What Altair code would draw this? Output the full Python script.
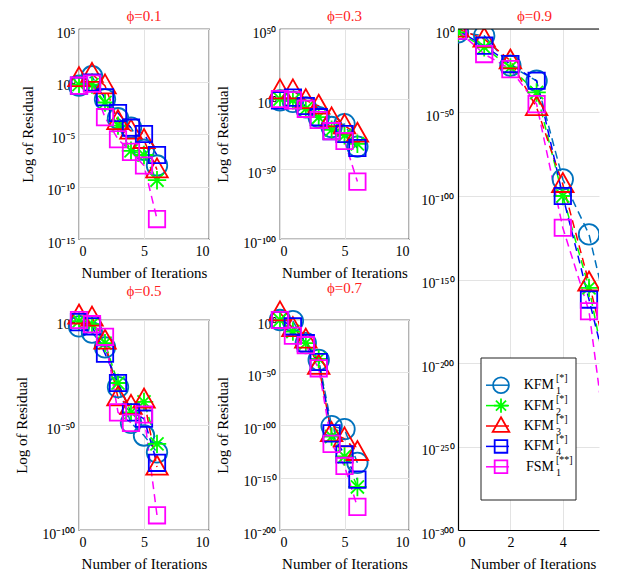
import altair as alt
import pandas as pd

iterations = [0, 1, 2, 3, 4, 5, 6]
series_keys = ["KFM1", "KFM2", "KFM3", "KFM4", "FSM1"]
legend_base = ["KFM", "KFM", "KFM", "KFM", "FSM"]
legend_sub = ["1", "2", "3", "4", "1"]
legend_sup = ["[*]", "[*]", "[*]", "[*]", "[**]"]
series_colors = ["#0072BD", "#00FF00", "#FF0000", "#0000FF", "#FF00FF"]

# log10(residual)
logres_phi01 = {
    "KFM1": [-0.4, 0.5, -1.7, -3.5, -4.4, -6.5, -8.0],
    "KFM2": [-0.3, -0.3, -2.0, -4.2, -6.6, -7.0, -9.4],
    "KFM3": [0.3, 0.7, -0.4, -3.8, -4.7, -5.6, -8.4],
    "KFM4": [-0.4, -0.1, -1.5, -3.0, -4.4, -5.0, -7.0],
    "FSM1": [-0.4, -0.2, -3.4, -5.5, -6.7, -8.0, -13.1],
}
logres_phi03 = {
    "KFM1": [-1, -2, -6, -13, -20, -18, -34],
    "KFM2": [0, -1, -7, -13, -22, -26, -32],
    "KFM3": [6, 6, -1, -5, -14, -19, -25],
    "KFM4": [-1, 1, -5, -13, -23, -25, -35],
    "FSM1": [0, -1, -7, -15, -23, -30, -59],
}
logres_phi05 = {
    "KFM1": [-3, -6, -13, -32, -49, -55, -63],
    "KFM2": [-0.5, -2, -11, -30, -44, -39, -59],
    "KFM3": [2, 1, -10, -37, -41, -38, -70],
    "KFM4": [-1, -3, -16, -30, -44, -47, -68],
    "FSM1": [0, -2, -8, -44, -49, -45, -93],
}
logres_phi07 = {
    "KFM1": [0, -1, -22, -38, -101, -104, -136],
    "KFM2": [0, -11, -22, -37, -111, -130, -159],
    "KFM3": [7, -8, -19, -44, -108, -113, -126],
    "KFM4": [0, -6, -22, -40, -108, -128, -152],
    "FSM1": [0, -15, -24, -46, -118, -139, -178],
}
logres_phi09 = {
    "KFM1": [-2, -4, -22, -31, -90, -123, -190],
    "KFM2": [-2, -11, -23, -38, -100, -155, -234],
    "KFM3": [0, -6, -19, -47, -93, -152, -216],
    "KFM4": [-1, -10, -21, -31, -100, -162, -225],
    "FSM1": [-1, -15, -24, -45, -119, -169, -289],
}

ticks_phi01 = [5, 0, -5, -10, -15]
ticks_phi03 = [50, 0, -50, -100]
ticks_phi05 = [0, -50, -100]
ticks_phi07 = [0, -50, -100, -150, -200]
ticks_phi09 = [0, -50, -100, -150, -200, -250, -300]
xticks_small = [0, 5, 10]
xticks_big = [0, 2, 4]

shape_paths = [
    "M1,0A1,1 0 1,1 -1,0A1,1 0 1,1 1,0Z",
    "M-0.9,0L0.9,0M0,-0.9L0,0.9M-0.64,-0.64L0.64,0.64M-0.64,0.64L0.64,-0.64",
    "M0,-1.1L1.05,0.75L-1.05,0.75Z",
    "M-0.8,-0.8L0.8,-0.8L0.8,0.8L-0.8,0.8Z",
    "M-0.8,-0.8L0.8,-0.8L0.8,0.8L-0.8,0.8Z",
]


def sup_label_expr():
    sup = {"0": "\u2070", "1": "\u00b9", "2": "\u00b2", "3": "\u00b3", "4": "\u2074",
           "5": "\u2075", "6": "\u2076", "7": "\u2077", "8": "\u2078", "9": "\u2079",
           "-": "\u207b"}
    e = "('' + round(log(datum.value) / LN10))"
    for k, v in sup.items():
        e = f"replace({e}, regexp('{k}', 'g'), '{v}')"
    return "'10' + " + e


LABEL_EXPR = sup_label_expr()
color_enc = alt.Color("series:N", scale=alt.Scale(domain=series_keys, range=series_colors), legend=None)
shape_enc = alt.Shape("series:N", scale=alt.Scale(domain=series_keys, range=shape_paths), legend=None)
DASH = [8, 5]


def panel(logres, title, ytick_exps, ymin_exp, ymax_exp, xmax, xticks, w, h,
          title_x=-57.5, big=False):
    rows = []
    for s in series_keys:
        for it, e in zip(iterations, logres[s]):
            rows.append({"iter": it, "series": s, "residual": 10.0 ** e})
    df = pd.DataFrame(rows)
    if big:
        xax = alt.Axis(values=xticks, title="Number of Iterations", titleY=26, titleX=75,
                       grid=True, domain=True, domainColor="black", domainWidth=1.2, labelPadding=5)
        yax = alt.Axis(values=[10.0 ** e for e in ytick_exps], labelExpr=LABEL_EXPR,
                       title="", grid=True, domain=True, domainColor="black",
                       domainWidth=1.2, labelOffset=4)
    else:
        xax = alt.Axis(values=xticks, title="Number of Iterations", titleY=26, grid=True,
                       domain=False, labelPadding=5)
        yax = alt.Axis(values=[10.0 ** e for e in ytick_exps], labelExpr=LABEL_EXPR,
                       title="Log of Residual", titleX=title_x, titleY=h / 2,
                       titleBaseline="middle", grid=True, domain=False, labelOffset=4)
    x = alt.X("iter:Q", scale=alt.Scale(domain=[0, xmax], nice=False, zero=False), axis=xax)
    y = alt.Y("residual:Q", scale=alt.Scale(type="log", domain=[10.0 ** ymin_exp, 10.0 ** ymax_exp], nice=False), axis=yax)
    lines = alt.Chart(df).mark_line(strokeDash=DASH, strokeWidth=1.5, clip=big).encode(
        x=x, y=y, color=color_enc, detail="series:N")
    pts = alt.Chart(df).mark_point(filled=False, size=420, strokeWidth=1.8, opacity=1, clip=big).encode(
        x=x, y=y, color=color_enc, shape=shape_enc)
    data_layer = alt.layer(lines, pts)
    if not big:
        return data_layer.properties(width=w, height=h,
                                     title=alt.TitleParams(title, frame="group"))

    one = pd.DataFrame({"k": [0]})
    leg_df = pd.DataFrame({"series": series_keys, "base": legend_base, "sub": legend_sub, "sup": legend_sup})
    leg_y = alt.Y("series:N", sort=series_keys,
                  scale=alt.Scale(domain=series_keys, range=[346, 448], padding=0), axis=None)
    top_border = alt.Chart(one).mark_rule(color="black", strokeWidth=1.2).encode(
        x=alt.value(0), x2=alt.value(w), y=alt.value(0))
    box = alt.Chart(one).mark_rect(fill="white", stroke="#222222", strokeWidth=1).encode(
        x=alt.value(23), x2=alt.value(118), y=alt.value(329), y2=alt.value(471))
    stubs = alt.Chart(leg_df).mark_rule(strokeWidth=1.5).encode(
        x=alt.value(28), x2=alt.value(51), y=leg_y, color=color_enc)
    marks = alt.Chart(leg_df).mark_point(filled=False, size=250, strokeWidth=1.8, opacity=1).encode(
        x=alt.value(43), y=leg_y, color=color_enc, shape=shape_enc)
    base_t = alt.Chart(leg_df).mark_text(align="right", baseline="middle", fontSize=14, color="black").encode(
        x=alt.value(96), y=leg_y, text="base:N")
    sub_t = alt.Chart(leg_df).mark_text(align="left", baseline="middle", fontSize=10, dy=6, color="black").encode(
        x=alt.value(98), y=leg_y, text="sub:N")
    sup_t = alt.Chart(leg_df).mark_text(align="left", baseline="middle", fontSize=10, dy=-7, color="black").encode(
        x=alt.value(98), y=leg_y, text="sup:N")
    legend_layer = alt.layer(top_border, box, stubs, marks, base_t, sub_t, sup_t)
    return alt.layer(data_layer, legend_layer).resolve_scale(y="independent").properties(
        width=w, height=h, title=alt.TitleParams(title, frame="group", dx=6),
        view=alt.ViewBackground(stroke="transparent"))


p1 = panel(logres_phi01, "\u03d5=0.1", ticks_phi01, -15, 5, 10, xticks_small, 130, 210, title_x=-52)
p2 = panel(logres_phi03, "\u03d5=0.3", ticks_phi03, -100, 50, 10, xticks_small, 129, 210)
p4 = panel(logres_phi05, "\u03d5=0.5", ticks_phi05, -100, 0, 10, xticks_small, 130, 210)
p5 = panel(logres_phi07, "\u03d5=0.7", ticks_phi07, -200, 0, 10, xticks_small, 129, 210)
p3 = panel(logres_phi09, "\u03d5=0.9", ticks_phi09, -300, 0, 141 / 26.2, xticks_big, 141, 501, big=True)

col1 = alt.vconcat(p1, p4, spacing=81, bounds="flush")
col2 = alt.vconcat(p2, p5, spacing=81, bounds="flush")
left = alt.hconcat(col1, col2, spacing=4)
chart = alt.hconcat(left, p3, spacing=10).properties(
    padding={"left": 5, "top": 0, "right": 0, "bottom": 0}
).configure(font="Liberation Serif").configure_axis(
    labelFont="Liberation Serif", titleFont="Liberation Serif", labelFontSize=14,
    titleFontSize=15, titleFontWeight="normal", labelColor="black", titleColor="black",
    gridColor="#e3e3e3", gridWidth=1, ticks=False, tickSize=0, labelPadding=4
).configure_view(stroke="black", strokeWidth=1.2).configure_title(
    font="Liberation Serif", fontSize=15, color="#ff2020", fontWeight="normal", offset=2
)

chart.save("out.html", embed_options={"renderer": "svg", "actions": False})
